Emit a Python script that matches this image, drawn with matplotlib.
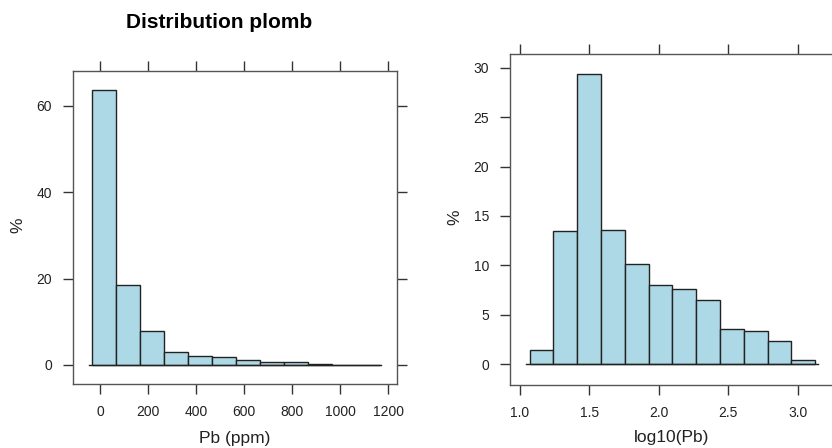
import matplotlib.pyplot as plt

plt.rcParams['font.family'] = ['Liberation Sans', 'DejaVu Sans']

# Histogramme du plomb (ppm), pourcentages par classe
pb_left = [-32, 68, 168, 268, 368, 468, 568, 668, 768, 868, 968, 1068]
pb_width = 100
pb_pct = [63.5, 18.4, 7.95, 2.93, 2.0, 1.77, 1.16, 0.62, 0.62, 0.3, 0.0, 0.0]

# Histogramme de log10(Pb)
log_left = [1.070, 1.241, 1.413, 1.584, 1.756, 1.927, 2.098, 2.270, 2.441, 2.613, 2.784, 2.955]
log_width = 0.1714
log_pct = [1.42, 13.46, 29.32, 13.6, 10.15, 8.06, 7.62, 6.51, 3.54, 3.40, 2.39, 0.40]

W, H = 832, 448
fill = '#add8e6'
frame = '#555555'


def lattice_axes(ax):
    for s in ax.spines.values():
        s.set_color(frame)
        s.set_linewidth(1.0)
    ax.tick_params(direction='out', length=7, width=1.0, color='#333333',
                   labelsize=10, labelcolor='#222222', pad=8)


fig = plt.figure(figsize=(W / 100, H / 100), dpi=100)

# panneau gauche
ax1 = fig.add_axes([73 / W, 1 - 384 / H, (397 - 73) / W, (384 - 71) / H])
ax1.bar(pb_left, pb_pct, width=pb_width, align='edge', color=fill,
        edgecolor='#222222', linewidth=1.0, zorder=2)
ax1.plot([-44, 1170], [0, 0], color='#222222', lw=1.0, zorder=3)
ax1.set_xlim(-112.5, 1237.5)
ax1.set_ylim(-4.4, 68.0)
ax1.set_xticks(range(0, 1201, 200))
ax1.set_yticks([0, 20, 40, 60])
lattice_axes(ax1)
ax1.tick_params(top=True, right=True, labeltop=False, labelright=False)
ax1.set_xlabel('Pb (ppm)', fontsize=12.5, color='#222222', va='center')
ax1.set_ylabel('%', fontsize=12.5, color='#222222', va='center')
ax1.xaxis.set_label_coords(0.5, (384 - 438) / 313)
ax1.yaxis.set_label_coords((18 - 73) / 324, (384 - 225) / 313)

# panneau droit
ax2 = fig.add_axes([510 / W, 1 - 385 / H, (835 - 510) / W, (385 - 54) / H])
ax2.bar(log_left, log_pct, width=log_width, align='edge', color=fill,
        edgecolor='#222222', linewidth=1.0, zorder=2)
ax2.plot([1.046, 3.15], [0, 0], color='#222222', lw=1.0, zorder=3)
ax2.set_xlim(0.928, 3.27)
ax2.set_ylim(-2.1, 31.38)
ax2.set_xticks([1.0, 1.5, 2.0, 2.5, 3.0])
ax2.set_xticklabels(['1.0', '1.5', '2.0', '2.5', '3.0'])
ax2.set_yticks(range(0, 31, 5))
lattice_axes(ax2)
ax2.tick_params(top=True, labeltop=False)
ax2.set_xlabel('log10(Pb)', fontsize=12.5, color='#222222', va='center')
ax2.set_ylabel('%', fontsize=12.5, color='#222222', va='center')
ax2.xaxis.set_label_coords((672 - 510) / 325, (385 - 437) / 331)
ax2.yaxis.set_label_coords((455 - 510) / 325, (385 - 217) / 331)

fig.text(219 / W, 1 - 22 / H, 'Distribution plomb', fontsize=15,
         fontweight='bold', ha='center', va='center')

fig.savefig('out.png', dpi=100)
